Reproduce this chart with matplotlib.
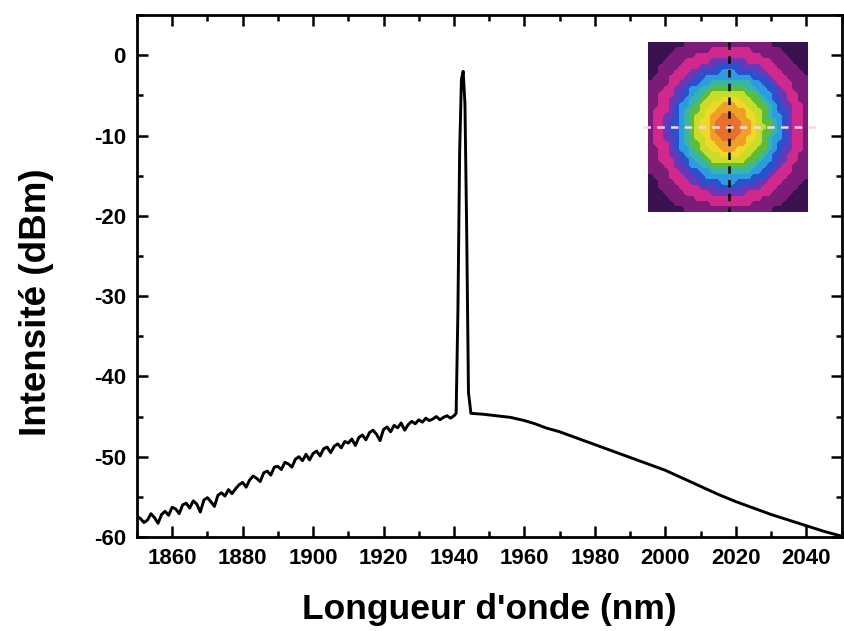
import matplotlib.pyplot as plt
import numpy as np
from matplotlib.colors import ListedColormap
from matplotlib.ticker import MultipleLocator

plt.rcParams["font.family"] = ["Liberation Sans", "DejaVu Sans"]
plt.rcParams["font.weight"] = "bold"
plt.rcParams["axes.unicode_minus"] = False

# noisy left wing of the spectrum (1 nm steps)
wl_left = list(range(1850, 1941))
db_left = [
    -57.4, -57.7, -58.2, -57.9, -57.1, -57.6, -58.3, -57.2, -56.8, -57.3,
    -56.3, -56.5, -57.1, -56.0, -55.8, -56.4, -55.5, -55.9, -56.9, -55.4,
    -55.1, -55.6, -56.2, -54.8, -54.5, -54.9, -54.1, -54.6, -54.0, -53.5,
    -53.2, -53.8, -52.9, -52.4, -52.7, -53.1, -52.0, -51.8, -52.3, -51.3,
    -51.2, -51.6, -50.7, -50.9, -51.3, -50.3, -50.0, -50.5, -49.7, -50.4,
    -49.6, -49.3, -49.9, -49.0, -48.8, -49.5, -48.7, -48.4, -48.9, -48.1,
    -48.3, -47.8, -48.6, -47.6, -47.3, -47.9, -47.0, -46.7, -47.2, -48.0,
    -46.6, -46.3, -46.9, -46.1, -46.4, -45.8, -46.7, -46.0, -45.6, -45.9,
    -45.4, -45.7, -45.2, -45.5, -45.3, -45.0, -45.4, -45.1, -44.9, -45.2,
    -44.9,
]
# laser line
wl_peak = [1940.6, 1941.1, 1941.6, 1942.1, 1942.6, 1943.1, 1943.6, 1944.1, 1944.8]
db_peak = [-44.6, -32.0, -12.0, -3.0, -2.0, -6.0, -22.0, -42.0, -44.6]
# smooth right wing
wl_right = [1948, 1952, 1956, 1960, 1963, 1966, 1970, 1975, 1980, 1985, 1990,
            1995, 2000, 2005, 2010, 2015, 2020, 2025, 2030, 2035, 2040, 2045, 2050]
db_right = [-44.7, -44.9, -45.1, -45.5, -45.9, -46.4, -46.9, -47.7, -48.5, -49.3,
            -50.1, -50.9, -51.7, -52.7, -53.7, -54.7, -55.6, -56.4, -57.2, -57.9,
            -58.6, -59.3, -59.9]

# beam profile inset: ring edges (fraction of half width) and their colours
ring_edges = [0.0, 0.17, 0.27, 0.35, 0.44, 0.51, 0.58, 0.65, 0.73, 0.81, 0.94, 1.12, 1.6]
ring_colors = ["#e8702c", "#f0a028", "#f0d828", "#c8dc28", "#5cbc3c", "#38b4a8",
               "#2c9ce0", "#2c50cc", "#6838b8", "#d0288c", "#7c1c78", "#3a1250"]

wl = wl_left + wl_peak + wl_right
db = db_left + db_peak + db_right

fig = plt.figure(figsize=(8.45, 6.31), dpi=100)
ax = fig.add_axes([0.162, 0.149, 0.834, 0.827])
ax.plot(wl, db, color="black", lw=2.1)

ax.set_xlim(1850, 2050)
ax.set_ylim(-60, 5)
ax.xaxis.set_major_locator(MultipleLocator(20))
ax.xaxis.set_minor_locator(MultipleLocator(10))
ax.yaxis.set_major_locator(MultipleLocator(10))
ax.yaxis.set_minor_locator(MultipleLocator(5))
ax.set_xticks(range(1860, 2041, 20))
ax.tick_params(which="both", direction="in", top=True, right=True, width=1.8,
               labelsize=16, pad=8)
ax.tick_params(which="major", length=8)
ax.tick_params(which="minor", length=4)
for s in ax.spines.values():
    s.set_linewidth(2)
ax.set_xlabel("Longueur d'onde (nm)", fontsize=25.5, fontweight="bold")
ax.set_ylabel("Intensité (dBm)", fontsize=26.5, fontweight="bold")
ax.xaxis.set_label_coords(0.5, -0.108)
ax.yaxis.set_label_coords(-0.118, 0.45)

# inset image
n = 31
yy, xx = np.mgrid[0:n, 0:n]
r = np.hypot((xx - 15.2) / 15.5, (yy - 15.0) / 15.5)
grid = np.digitize(r, ring_edges[1:-1])
ins = fig.add_axes([0.767, 0.664, 0.189, 0.269])
cmap = ListedColormap(ring_colors)
ins.imshow(grid, cmap=cmap, vmin=-0.5, vmax=len(ring_colors) - 0.5,
           interpolation="bilinear", aspect="auto")
ins.set_xlim(-0.5, n - 0.5)
ins.set_ylim(n - 0.5, -0.5)
ins.plot([15.2, 15.2], [-0.5, n - 0.5], color="black", lw=1.8, ls=(0, (3, 2.5)))
ins.plot([-1.5, n + 1.5], [15, 15], color="#f4d8e4", lw=1.8, ls=(0, (3, 2.5)),
         clip_on=False)
ins.set_xticks([])
ins.set_yticks([])
for s in ins.spines.values():
    s.set_visible(False)

fig.savefig("out.png", dpi=100)
